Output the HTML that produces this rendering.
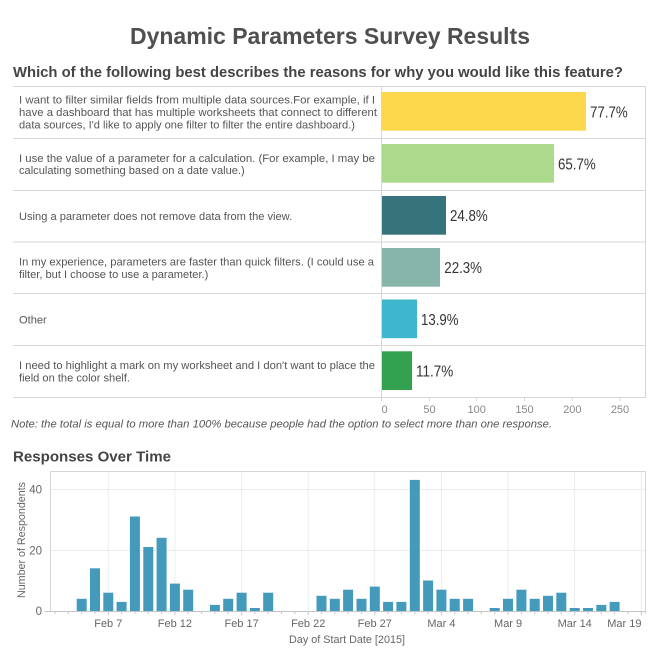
<!DOCTYPE html>
<html>
<head>
<meta charset="utf-8">
<style>
  html, body { margin:0; padding:0; background:#ffffff; }
  svg { display:block; }
  text { font-family: "Liberation Sans", "DejaVu Sans", sans-serif; }
</style>
</head>
<body>
<svg width="648" height="648" viewBox="0 0 648 648" xmlns="http://www.w3.org/2000/svg">
  <rect x="0" y="0" width="648" height="648" fill="#ffffff"/>

  <!-- Main title -->
  <text x="130" y="44" font-size="23" font-weight="bold" fill="#4f4f4f" textLength="400" lengthAdjust="spacingAndGlyphs">Dynamic Parameters Survey Results</text>

  <!-- Subtitle -->
  <text x="13" y="77" font-size="14.5" font-weight="bold" fill="#444444" textLength="610" lengthAdjust="spacingAndGlyphs">Which of the following best describes the reasons for why you would like this feature?</text>

  <!-- Table grid lines -->
  <g stroke="#d6d6d6" stroke-width="1">
    <line x1="13" y1="86.5" x2="646" y2="86.5"/>
    <line x1="13" y1="138.5" x2="646" y2="138.5"/>
    <line x1="13" y1="190.5" x2="646" y2="190.5"/>
    <line x1="13" y1="242" x2="646" y2="242"/>
    <line x1="13" y1="293.5" x2="646" y2="293.5"/>
    <line x1="13" y1="345.5" x2="646" y2="345.5"/>
    <line x1="13" y1="397.5" x2="646" y2="397.5"/>
    <line x1="645.5" y1="86" x2="645.5" y2="398"/>
    <line x1="381.5" y1="86" x2="381.5" y2="401"/>
    <line x1="429.3" y1="397" x2="429.3" y2="401"/>
    <line x1="476.7" y1="397" x2="476.7" y2="401"/>
    <line x1="524.5" y1="397" x2="524.5" y2="401"/>
    <line x1="572.3" y1="397" x2="572.3" y2="401"/>
    <line x1="620" y1="397" x2="620" y2="401"/>
  </g>

  <!-- Bars -->
  <rect x="382" y="92" width="204" height="38.7" fill="#fdd74b"/>
  <rect x="382" y="144" width="172" height="38.7" fill="#acd98c"/>
  <rect x="382" y="196" width="64" height="38.7" fill="#37737a"/>
  <rect x="382" y="248" width="58" height="38.7" fill="#88b5a9"/>
  <rect x="382" y="299.5" width="35" height="38.7" fill="#3db6ce"/>
  <rect x="382" y="351.3" width="30" height="38.7" fill="#33a24f"/>

  <!-- Percent labels -->
  <g font-size="15.5" fill="#333333">
    <text x="590" y="117.5" textLength="37.7" lengthAdjust="spacingAndGlyphs">77.7%</text>
    <text x="558" y="169.5" textLength="37.7" lengthAdjust="spacingAndGlyphs">65.7%</text>
    <text x="450" y="221.2" textLength="37.7" lengthAdjust="spacingAndGlyphs">24.8%</text>
    <text x="444.3" y="273" textLength="37.7" lengthAdjust="spacingAndGlyphs">22.3%</text>
    <text x="421" y="324.8" textLength="37.5" lengthAdjust="spacingAndGlyphs">13.9%</text>
    <text x="416" y="376.6" textLength="37.3" lengthAdjust="spacingAndGlyphs">11.7%</text>
  </g>

  <!-- Row labels -->
  <g font-size="11.1" fill="#555555">
    <text x="19" y="103.5" textLength="356" lengthAdjust="spacingAndGlyphs">I want to filter similar fields from multiple data sources.For example, if I</text>
    <text x="19" y="116" textLength="358" lengthAdjust="spacingAndGlyphs">have a dashboard that has multiple worksheets that connect to different</text>
    <text x="19" y="128.5" textLength="336" lengthAdjust="spacingAndGlyphs">data sources, I'd like to apply one filter to filter the entire dashboard.)</text>

    <text x="19" y="161.8" textLength="356" lengthAdjust="spacingAndGlyphs">I use the value of a parameter for a calculation. (For example, I may be</text>
    <text x="19" y="174.2">calculating something based on a date value.)</text>

    <text x="19" y="219.8">Using a parameter does not remove data from the view.</text>

    <text x="19" y="265.4" textLength="355" lengthAdjust="spacingAndGlyphs">In my experience, parameters are faster than quick filters. (I could use a</text>
    <text x="19" y="277.8">filter, but I choose to use a parameter.)</text>

    <text x="19" y="323.4">Other</text>

    <text x="19" y="369" textLength="356" lengthAdjust="spacingAndGlyphs">I need to highlight a mark on my worksheet and I don't want to place the</text>
    <text x="19" y="381.4">field on the color shelf.</text>
  </g>

  <!-- Table axis tick labels -->
  <g font-size="11" fill="#888888" text-anchor="middle">
    <text x="384.5" y="413">0</text>
    <text x="429.5" y="413">50</text>
    <text x="476.7" y="413">100</text>
    <text x="524.5" y="413">150</text>
    <text x="572.3" y="413">200</text>
    <text x="620" y="413">250</text>
  </g>

  <!-- Note -->
  <text x="11" y="427.5" font-size="11" font-style="italic" fill="#555555" textLength="541" lengthAdjust="spacingAndGlyphs">Note: the total is equal to more than 100% because people had the option to select more than one response.</text>

  <!-- Responses Over Time -->
  <text x="13" y="461.5" font-size="14.5" font-weight="bold" fill="#444444" textLength="158" lengthAdjust="spacingAndGlyphs">Responses Over Time</text>

  <!-- Plot frame and grid -->
  <g stroke="#ececec" stroke-width="1">
    <line x1="50" y1="489.5" x2="646" y2="489.5"/>
    <line x1="50" y1="550.5" x2="646" y2="550.5"/>
    <line x1="108.3" y1="471" x2="108.3" y2="611"/>
    <line x1="174.9" y1="471" x2="174.9" y2="611"/>
    <line x1="241.6" y1="471" x2="241.6" y2="611"/>
    <line x1="308.2" y1="471" x2="308.2" y2="611"/>
    <line x1="374.8" y1="471" x2="374.8" y2="611"/>
    <line x1="441.4" y1="471" x2="441.4" y2="611"/>
    <line x1="508.1" y1="471" x2="508.1" y2="611"/>
    <line x1="574.7" y1="471" x2="574.7" y2="611"/>
    <line x1="641.3" y1="471" x2="641.3" y2="611"/>
  </g>
  <g stroke="#d6d6d6" stroke-width="1">
    <line x1="50" y1="471.5" x2="646" y2="471.5"/>
    <line x1="50.5" y1="471" x2="50.5" y2="611"/>
    <line x1="645.5" y1="471" x2="645.5" y2="614"/>
  </g>

  <!-- baseline -->
  <line x1="45" y1="611.5" x2="646" y2="611.5" stroke="#c4c4c4" stroke-width="1"/>

  <!-- Y labels -->
  <g font-size="11.5" fill="#666666" text-anchor="end">
    <text x="42" y="493.3">40</text>
    <text x="42" y="554.3">20</text>
    <text x="42" y="615">0</text>
  </g>
  <text transform="translate(25,540) rotate(-90)" font-size="11" fill="#666666" text-anchor="middle" textLength="116" lengthAdjust="spacingAndGlyphs">Number of Respondents</text>

  <!-- X labels -->
  <g font-size="11" fill="#666666" text-anchor="middle">
    <text x="108.3" y="627">Feb 7</text>
    <text x="174.9" y="627">Feb 12</text>
    <text x="241.6" y="627">Feb 17</text>
    <text x="308.2" y="627">Feb 22</text>
    <text x="374.8" y="627">Feb 27</text>
    <text x="441.4" y="627">Mar 4</text>
    <text x="508.1" y="627">Mar 9</text>
    <text x="574.7" y="627">Mar 14</text>
    <text x="641.5" y="627" text-anchor="end">Mar 19</text>
  </g>
  <text x="347" y="643" font-size="11" fill="#666666" text-anchor="middle" textLength="116" lengthAdjust="spacingAndGlyphs">Day of Start Date [2015]</text>

  <!-- Bars over time -->
  <g fill="#449abb">
    <rect x="76.7" y="598.8" width="10" height="12.2"/>
    <rect x="90.0" y="568.3" width="10" height="42.7"/>
    <rect x="103.3" y="592.7" width="10" height="18.3"/>
    <rect x="116.6" y="601.9" width="10" height="9.1"/>
    <rect x="129.9" y="516.5" width="10" height="94.5"/>
    <rect x="143.3" y="547.0" width="10" height="64.0"/>
    <rect x="156.6" y="537.8" width="10" height="73.2"/>
    <rect x="169.9" y="583.6" width="10" height="27.4"/>
    <rect x="183.2" y="589.7" width="10" height="21.3"/>
    <rect x="209.9" y="604.9" width="10" height="6.1"/>
    <rect x="223.2" y="598.8" width="10" height="12.2"/>
    <rect x="236.6" y="592.7" width="10" height="18.3"/>
    <rect x="249.9" y="608.0" width="10" height="3.0"/>
    <rect x="263.2" y="592.7" width="10" height="18.3"/>
    <rect x="316.5" y="595.8" width="10" height="15.2"/>
    <rect x="329.8" y="598.8" width="10" height="12.2"/>
    <rect x="343.1" y="589.7" width="10" height="21.3"/>
    <rect x="356.5" y="598.8" width="10" height="12.2"/>
    <rect x="369.8" y="586.6" width="10" height="24.4"/>
    <rect x="383.1" y="601.9" width="10" height="9.1"/>
    <rect x="396.4" y="601.9" width="10" height="9.1"/>
    <rect x="409.8" y="479.9" width="10" height="131.1"/>
    <rect x="423.1" y="580.5" width="10" height="30.5"/>
    <rect x="436.4" y="589.7" width="10" height="21.3"/>
    <rect x="449.7" y="598.8" width="10" height="12.2"/>
    <rect x="463.1" y="598.8" width="10" height="12.2"/>
    <rect x="489.7" y="608.0" width="10" height="3.0"/>
    <rect x="503.0" y="598.8" width="10" height="12.2"/>
    <rect x="516.4" y="589.7" width="10" height="21.3"/>
    <rect x="529.7" y="598.8" width="10" height="12.2"/>
    <rect x="543.0" y="595.8" width="10" height="15.2"/>
    <rect x="556.3" y="592.7" width="10" height="18.3"/>
    <rect x="569.7" y="608.0" width="10" height="3.0"/>
    <rect x="583.0" y="608.0" width="10" height="3.0"/>
    <rect x="596.3" y="604.9" width="10" height="6.1"/>
    <rect x="609.6" y="601.9" width="10" height="9.1"/>
  </g>

  <!-- Minor day ticks -->
  <g stroke="#c4c4c4" stroke-width="1">
    <line x1="55.0" y1="611" x2="55.0" y2="614"/>
    <line x1="68.3" y1="611" x2="68.3" y2="614"/>
    <line x1="81.7" y1="611" x2="81.7" y2="614"/>
    <line x1="95.0" y1="611" x2="95.0" y2="614"/>
    <line x1="108.3" y1="611" x2="108.3" y2="615"/>
    <line x1="121.6" y1="611" x2="121.6" y2="614"/>
    <line x1="135.0" y1="611" x2="135.0" y2="614"/>
    <line x1="148.3" y1="611" x2="148.3" y2="614"/>
    <line x1="161.6" y1="611" x2="161.6" y2="614"/>
    <line x1="174.9" y1="611" x2="174.9" y2="615"/>
    <line x1="188.2" y1="611" x2="188.2" y2="614"/>
    <line x1="201.6" y1="611" x2="201.6" y2="614"/>
    <line x1="214.9" y1="611" x2="214.9" y2="614"/>
    <line x1="228.2" y1="611" x2="228.2" y2="614"/>
    <line x1="241.6" y1="611" x2="241.6" y2="615"/>
    <line x1="254.9" y1="611" x2="254.9" y2="614"/>
    <line x1="268.2" y1="611" x2="268.2" y2="614"/>
    <line x1="281.5" y1="611" x2="281.5" y2="614"/>
    <line x1="294.9" y1="611" x2="294.9" y2="614"/>
    <line x1="308.2" y1="611" x2="308.2" y2="615"/>
    <line x1="321.5" y1="611" x2="321.5" y2="614"/>
    <line x1="334.8" y1="611" x2="334.8" y2="614"/>
    <line x1="348.1" y1="611" x2="348.1" y2="614"/>
    <line x1="361.5" y1="611" x2="361.5" y2="614"/>
    <line x1="374.8" y1="611" x2="374.8" y2="615"/>
    <line x1="388.1" y1="611" x2="388.1" y2="614"/>
    <line x1="401.4" y1="611" x2="401.4" y2="614"/>
    <line x1="414.8" y1="611" x2="414.8" y2="614"/>
    <line x1="428.1" y1="611" x2="428.1" y2="614"/>
    <line x1="441.4" y1="611" x2="441.4" y2="615"/>
    <line x1="454.7" y1="611" x2="454.7" y2="614"/>
    <line x1="468.1" y1="611" x2="468.1" y2="614"/>
    <line x1="481.4" y1="611" x2="481.4" y2="614"/>
    <line x1="494.7" y1="611" x2="494.7" y2="614"/>
    <line x1="508.1" y1="611" x2="508.1" y2="615"/>
    <line x1="521.4" y1="611" x2="521.4" y2="614"/>
    <line x1="534.7" y1="611" x2="534.7" y2="614"/>
    <line x1="548.0" y1="611" x2="548.0" y2="614"/>
    <line x1="561.3" y1="611" x2="561.3" y2="614"/>
    <line x1="574.7" y1="611" x2="574.7" y2="615"/>
    <line x1="588.0" y1="611" x2="588.0" y2="614"/>
    <line x1="601.3" y1="611" x2="601.3" y2="614"/>
    <line x1="614.6" y1="611" x2="614.6" y2="614"/>
    <line x1="628.0" y1="611" x2="628.0" y2="614"/>
    <line x1="641.3" y1="611" x2="641.3" y2="615"/>
  </g>
</svg>
</body>
</html>
